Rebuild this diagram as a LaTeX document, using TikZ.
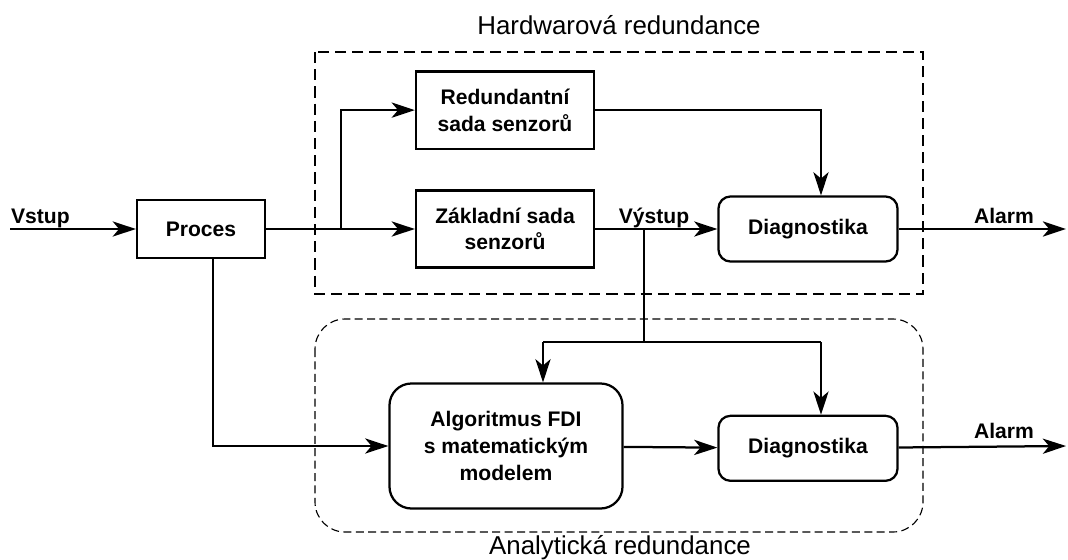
\documentclass[tikz,border=0pt]{standalone}
\usepackage{fontspec}
\setmainfont{Liberation Sans}
\usetikzlibrary{arrows.meta,positioning}

\begin{document}
\begin{tikzpicture}[
  x=0.025cm, y=-0.025cm,
  line width=1.6pt,
  box/.style={draw, line width=1.6pt, inner sep=0pt, align=center,
              font=\fontsize{15}{19}\selectfont\bfseries},
  rbox/.style={box, rounded corners=0.3cm},
  lbl/.style={font=\fontsize{15}{19}\selectfont\bfseries, inner sep=0pt, anchor=base},
  grp/.style={font=\fontsize{18.4}{22}\selectfont, inner sep=0pt, anchor=base},
  arr/.style={-{Stealth[length=5.8mm, width=3.8mm, inset=1.6mm]}},
  hwbox/.style={line width=1.4pt, dash pattern=on 0.28cm off 0.15cm},
  anbox/.style={line width=0.8pt, dash pattern=on 0.2cm off 0.11cm, rounded corners=0.75cm}
]
  \useasboundingbox (0,0) rectangle (1068,560);

  % redundancy groups
  \draw[hwbox] (315,52) rectangle (923,294);
  \draw[anbox] (315,319) rectangle (923,532);
  \node[grp] (hwtitle) at (619,34)  {Hardwarová redundance};
  \node[grp] (antitle) at (620,554) {Analytická redundance};

  % blocks
  \node[box, minimum width=3.2cm, minimum height=1.45cm]   (proc)  at (201,229) {Proces};
  \node[box, minimum width=4.45cm, minimum height=1.925cm] (zakl)  at (505,229) {Základní sada\\senzorů};
  \node[box, minimum width=4.45cm, minimum height=1.925cm, above=0.99cm of zakl] (red) {Redundantní\\sada senzorů};
  \node[rbox, minimum width=4.475cm, minimum height=1.625cm] (diag1) at (808,229) {Diagnostika};
  \node[rbox, minimum width=4.475cm, minimum height=1.625cm, below=3.8cm of diag1] (diag2) {Diagnostika};
  \node[box, rounded corners=0.55cm, minimum width=5.825cm, minimum height=3.125cm]
        (alg) at (506,446) {Algoritmus FDI\\s matematickým\\modelem};

  % branch points
  \coordinate (in)     at (10,229);
  \coordinate (split1) at (341,229);
  \coordinate (split2) at (644,229);
  \coordinate (join)   at (644,342);
  \coordinate (tapL)   at (543,342);
  \coordinate (tapR)   at (821,342);
  \coordinate (out1)   at (1066,229);
  \coordinate (out2)   at (1066,446);

  % signals
  \draw[arr] (in) -- (proc);
  \draw[arr] (proc) -- (zakl);
  \draw[arr] (split1) |- (red);
  \draw[arr] (zakl) -- (diag1);
  \draw[arr] (red) -| (tapR |- diag1.north);
  \draw (split2) -- (join);
  \draw (tapL) -- (tapR);
  \draw[arr] (tapL) -- (tapL |- alg.north);
  \draw[arr] (tapR) -- (tapR |- diag2.north);
  \draw[arr] ([xshift=0.3cm]proc.south) |- (alg);
  \draw[arr] (alg) -- (diag2);
  \draw[arr] (diag1) -- (out1);
  \draw[arr] (diag2) -- (out2);

  % labels
  \node[lbl, anchor=base west] (vstup) at (10,223)  {Vstup};
  \node[lbl] (vystup) at (654,223)  {Výstup};
  \node[lbl] (alarm1) at (1004,223) {Alarm};
  \node[lbl] (alarm2) at (1004,438) {Alarm};
\end{tikzpicture}
\end{document}
